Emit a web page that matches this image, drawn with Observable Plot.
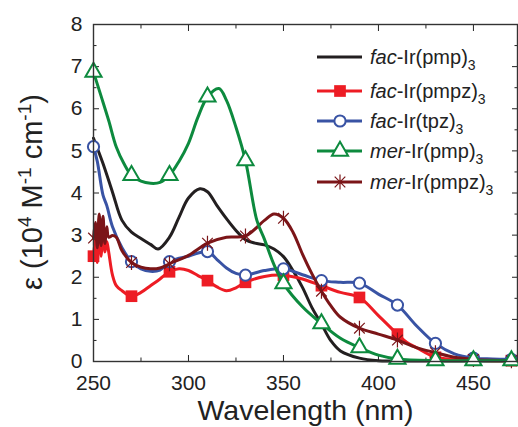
<!DOCTYPE html>
<html><head><meta charset="utf-8">
<script src="https://cdn.jsdelivr.net/npm/d3@7"></script>
<script src="https://cdn.jsdelivr.net/npm/@observablehq/plot@0.6"></script>
<style>body{margin:0;background:#fff} #chart{width:518px;height:427px;overflow:hidden}</style>
</head><body><div id="chart"></div>
<script>
// ---- data ----
const xMajor = [250, 300, 350, 400, 450];
const xMinor = [275, 325, 375, 425];
const yMajor = [0, 1, 2, 3, 4, 5, 6, 7, 8];
const yMinor = [0.5, 1.5, 2.5, 3.5, 4.5, 5.5, 6.5, 7.5];
const markerWl = [250, 270, 290, 310, 330, 350, 370, 390, 410, 430, 450, 470];

const pmpWl  = [250,255,260,265,270,275,280,284,290,295,300,306,310,315,320,325,330,335,340,345,350,355,360,365,370,375,380,390,400,420,440,470];
const pmpEps = [5.3,4.7,4.02,3.35,3.07,2.92,2.78,2.67,2.95,3.42,3.88,4.1,4.03,3.7,3.39,3.11,2.89,2.81,2.77,2.67,2.49,2.16,1.76,1.28,0.89,0.49,0.25,0.08,0.02,0.01,0.01,0.01];

const pmpzWl  = [250,251,252,253,254,255,256,257,258,260,262,265,270,275,280,285,290,295,300,305,310,315,320,325,330,340,350,360,370,380,390,400,410,415,420,430,440,450,460,470];
const pmpzEps = [2.5,2.9,2.35,3.4,2.5,3.3,2.6,2.85,2.6,2.05,1.8,1.68,1.55,1.64,1.8,1.96,2.13,2.2,2.16,2.04,1.92,1.77,1.68,1.75,1.88,2.02,2.05,1.96,1.8,1.64,1.52,1.09,0.65,0.45,0.33,0.1,0.05,0.03,0.02,0.02];

const tpzWl  = [250,252,255,257,260,265,270,275,280,285,290,300,310,315,320,325,330,340,350,360,370,380,390,400,410,420,430,440,450,460,470];
const tpzEps = [5.1,4.75,3.95,3.7,3.2,2.7,2.37,2.2,2.14,2.17,2.37,2.5,2.61,2.42,2.22,2.09,2.05,2.16,2.2,2.06,1.92,1.88,1.86,1.6,1.34,0.85,0.43,0.18,0.08,0.06,0.05];

const merPmpWl  = [250,254,258,262,266,270,275,280,285,290,295,300,305,310,316,320,325,330,336,340,345,350,360,370,380,390,400,410,430,450,470];
const merPmpEps = [6.87,6.3,5.72,5.09,4.7,4.42,4.28,4.23,4.25,4.42,4.75,5.18,5.8,6.28,6.48,6.2,5.56,4.77,3.35,2.9,2.3,1.85,1.3,0.9,0.55,0.33,0.15,0.06,0.02,0.02,0.02];

const merPmpzWl  = [250,251,252,253,254,255,256,257,258,260,262,265,270,275,280,285,290,300,310,320,330,340,345,350,355,360,365,370,375,380,390,400,410,420,430,440,450,460,470];
const merPmpzEps = [2.93,3.3,2.7,3.5,2.75,3.45,2.8,3.2,2.95,2.99,2.95,2.63,2.35,2.24,2.2,2.22,2.32,2.52,2.81,2.95,2.98,3.35,3.5,3.4,3.07,2.55,2.08,1.67,1.32,1.05,0.79,0.65,0.51,0.33,0.21,0.1,0.05,0.03,0.02];

// ---- styles ----
const asteriskX = {
  draw(ctx, size) {
    const r = Math.sqrt(size / Math.PI), d = r * 0.7071;
    ctx.moveTo(0, -r); ctx.lineTo(0, r);
    ctx.moveTo(-d, -d); ctx.lineTo(d, d);
    ctx.moveTo(-d, d); ctx.lineTo(d, -d);
  }
};
const series = [
  {pre: "fac", main: "-Ir(pmp)", wl: pmpWl, eps: pmpEps, color: "#231f20", sym: null},
  {pre: "fac", main: "-Ir(pmpz)", wl: pmpzWl, eps: pmpzEps, color: "#ed1c24", sym: "square", r: 6.6, fill: "#ed1c24", stroke: "none", sw: 0},
  {pre: "fac", main: "-Ir(tpz)", wl: tpzWl, eps: tpzEps, color: "#3953a4", sym: "circle", r: 5.6, fill: "white", sw: 2},
  {pre: "mer", main: "-Ir(pmpz)", wl: merPmpzWl, eps: merPmpzEps, color: "#7b1518", sym: asteriskX, r: 7.5, fill: "none", sw: 1.2, legendIdx: 4},
  {pre: "mer", main: "-Ir(pmp)", wl: merPmpWl, eps: merPmpEps, color: "#0d8a3e", sym: "triangle", r: 6, fill: "white", sw: 2, legendIdx: 3}
];
series.forEach((s, i) => { if (s.legendIdx === undefined) s.legendIdx = i; });
const rows = s => s.wl.map((w, i) => ({wl: w, eps: s.eps[i]}));

const marks = [];
for (const s of series) {
  marks.push(Plot.line(rows(s), {x: "wl", y: "eps", stroke: s.color, strokeWidth: 3, curve: "catmull-rom"}));
  if (s.sym) {
    marks.push(Plot.dot(rows(s).filter(d => markerWl.includes(d.wl)), {
      x: "wl", y: "eps", symbol: s.sym, r: s.r,
      fill: s.fill, stroke: s.stroke === "none" ? null : s.color, strokeWidth: s.sw
    }));
  }
}
const noLabel = () => "";
const chart = Plot.plot({
  width: 518, height: 427,
  marginLeft: 93, marginRight: 1, marginTop: 24, marginBottom: 66,
  style: {fontFamily: "'Liberation Sans', Arial, sans-serif", background: "white", color: "#222"},
  x: {domain: [250, 473.2]},
  y: {domain: [0, 8]},
  marks: [
    Plot.axisX({anchor: "bottom", ticks: xMajor, tickSize: -6, tickPadding: 20, fontSize: 21, label: null, tickFormat: d => d}),
    Plot.axisX({anchor: "bottom", ticks: xMinor, tickSize: -3.5, tickFormat: noLabel, label: null}),
    Plot.axisX({anchor: "top", ticks: xMajor, tickSize: -6, tickFormat: noLabel, label: null}),
    Plot.axisX({anchor: "top", ticks: xMinor, tickSize: -3.5, tickFormat: noLabel, label: null}),
    Plot.axisY({anchor: "left", ticks: yMajor, tickSize: -6, tickPadding: 17, fontSize: 21, label: null, tickFormat: d => d}),
    Plot.axisY({anchor: "left", ticks: yMinor, tickSize: -3.5, tickFormat: noLabel, label: null}),
    Plot.axisY({anchor: "right", ticks: yMajor, tickSize: -6, tickFormat: noLabel, label: null}),
    Plot.axisY({anchor: "right", ticks: yMinor, tickSize: -3.5, tickFormat: noLabel, label: null}),
    ...marks,
    Plot.frame({stroke: "#333", strokeWidth: 1.4}),
    Plot.text(["Wavelength (nm)"], {frameAnchor: "bottom", dy: 49, fontSize: 28.5, lineAnchor: "middle", fill: "#222"})
  ]
});
document.getElementById("chart").appendChild(chart);

// ---- y label with superscripts ----
const svg = d3.select(chart);
const yl = svg.append("text")
  .attr("transform", "translate(42,192) rotate(-90)")
  .attr("text-anchor", "middle")
  .attr("font-size", 29).attr("fill", "#222")
  .attr("font-family", "'Liberation Sans', Arial, sans-serif");
yl.append("tspan").text("ε (10");
yl.append("tspan").attr("font-size", 19).attr("dy", -11).text("4");
yl.append("tspan").attr("dy", 11).text(" M");
yl.append("tspan").attr("font-size", 19).attr("dy", -11).text("-1");
yl.append("tspan").attr("dy", 11).text(" cm");
yl.append("tspan").attr("font-size", 19).attr("dy", -11).text("-1");
yl.append("tspan").attr("dy", 11).text(")");

// ---- legend ----
const legendY = [57, 91, 121, 151, 182];
const lg = svg.append("g").attr("font-family", "'Liberation Sans', Arial, sans-serif")
  .attr("fill", "#222").attr("text-anchor", "start");
const legendOrder = series.slice().sort((a, b) => a.legendIdx - b.legendIdx);
legendOrder.forEach((s, i) => {
  const y = legendY[i];
  lg.append("line").attr("x1", 317).attr("x2", 362).attr("y1", y).attr("y2", y)
    .attr("stroke", s.color).attr("stroke-width", 3);
  if (s.sym) {
    const type = typeof s.sym === "string" ? {square: d3.symbolSquare, circle: d3.symbolCircle, triangle: d3.symbolTriangle}[s.sym] : s.sym;
    lg.append("path").attr("d", d3.symbol(type, Math.PI * s.r * s.r)())
      .attr("transform", `translate(340,${y})`)
      .attr("fill", s.fill).attr("stroke", s.stroke === "none" ? "none" : s.color)
      .attr("stroke-width", s.sw);
  }
  const t = lg.append("text").attr("x", 370).attr("y", y + 7).attr("font-size", 20).attr("text-anchor", "start");
  t.append("tspan").attr("font-style", "italic").text(s.pre);
  t.append("tspan").text(s.main);
  t.append("tspan").attr("font-size", 14).attr("dy", 6).text("3");
});
</script>
</body></html>
